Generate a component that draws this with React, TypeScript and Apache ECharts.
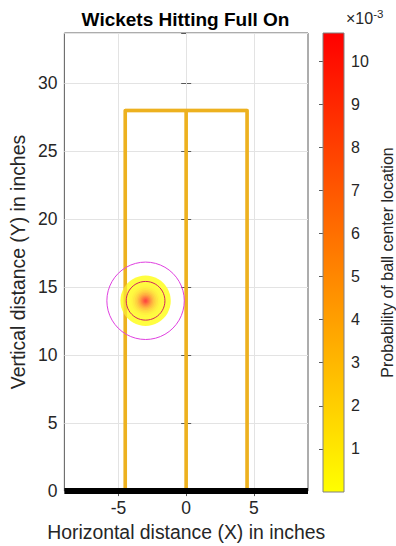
import React, { useEffect, useRef } from 'react';
import * as echarts from 'echarts';

// ---- data ----
const xLimits = [-9, 9];
const yLimits = [0, 33.7];
const xTicks = [-5, 0, 5];
const yStep = 5;
const stumpX = [-4.5, 0, 4.5];
const stumpBase = 0;
const stumpTop = 28;
const groundX = [-9, 9];
const groundY = 0;
const ballCenter = [-3, 14];
const ballRadius = 1.43;
const reachRadius = 2.86;
// concentric bands of the probability surface, outer radius (inches) and probability (x10^-3)
const bandRadius = [1.86, 1.4, 1.2, 1.05, 0.92, 0.8, 0.68, 0.57, 0.47, 0.38, 0.3, 0.22, 0.14, 0.07];
const bandProbability = [0.05, 0.15, 0.35, 0.8, 1.4, 2.1, 3.0, 4.0, 5.1, 6.2, 7.3, 8.4, 9.4, 10.2];
const colorbarRange = [0, 10.65];
const colorbarStep = 1;

const FONT = '"Liberation Sans", Arial, Helvetica, sans-serif';
const TXT = '#262626';
const AXC = '#5a5a5a';
const GRIDC = '#e3e3e3';
const STUMP = '#EDB120';

export default function App() {
  const ref = useRef<HTMLDivElement>(null);
  useEffect(() => {
    if (!ref.current) return;
    const chart = echarts.init(ref.current, null, { renderer: 'svg' });

    const bandData = bandRadius.map((r, i) => [ballCenter[0], ballCenter[1], r, bandProbability[i]]);
    const stumpSeries = (opacity: number, z: number) =>
      [
        [[stumpX[0], stumpBase], [stumpX[0], stumpTop], [stumpX[2], stumpTop], [stumpX[2], stumpBase]],
        [[stumpX[1], stumpBase], [stumpX[1], stumpTop]],
      ].map((d) => ({
        type: 'line',
        xAxisIndex: 0,
        yAxisIndex: 0,
        data: d,
        symbol: 'none',
        z,
        silent: true,
        clip: false,
        lineStyle: { color: STUMP, width: 3.5, opacity, join: 'round', cap: 'butt' },
      }));

    const circleSeries = (radius: number, color: string) => ({
      type: 'custom',
      xAxisIndex: 0,
      yAxisIndex: 0,
      z: 6,
      silent: true,
      data: [[ballCenter[0], ballCenter[1], radius]],
      encode: { x: 0, y: 1 },
      renderItem: (_p: any, api: any) => {
        const c = api.coord([api.value(0), api.value(1)]);
        const r = api.size([api.value(2), 0])[0];
        return {
          type: 'circle',
          shape: { cx: c[0], cy: c[1], r },
          style: { fill: 'none', stroke: color, lineWidth: 1 },
        };
      },
    });

    const tickStyle = { show: true, inside: true, length: 5, lineStyle: { color: AXC } };
    const xTickStyle = { ...tickStyle, customValues: xTicks };

    const option: any = {
      animation: false,
      grid: [
        { left: 63, top: 33, width: 245, height: 459, show: true, borderColor: AXC, borderWidth: 1, backgroundColor: '#fff' },
        { left: 323, top: 33, width: 24, height: 459 },
      ],
      xAxis: [
        {
          type: 'value', gridIndex: 0, min: xLimits[0], max: xLimits[1], position: 'bottom',
          axisLine: { show: false }, axisTick: xTickStyle,
          axisLabel: { color: TXT, fontSize: 17.5, fontFamily: FONT, margin: 8, customValues: xTicks },
          splitLine: { show: false },
          name: 'Horizontal distance (X) in inches', nameLocation: 'middle', nameGap: 28,
          nameTextStyle: { color: TXT, fontSize: 19.4, fontFamily: FONT },
        },
        {
          type: 'value', gridIndex: 0, min: xLimits[0], max: xLimits[1], position: 'top',
          axisLine: { show: false }, axisTick: xTickStyle, axisLabel: { show: false }, splitLine: { show: false },
        },
        { type: 'value', gridIndex: 1, min: 0, max: 1, show: false },
      ],
      yAxis: [
        {
          type: 'value', gridIndex: 0, min: yLimits[0], max: yLimits[1], interval: yStep, position: 'left',
          axisLine: { show: false }, axisTick: tickStyle,
          axisLabel: { color: TXT, fontSize: 17.5, fontFamily: FONT, margin: 7, showMaxLabel: false },
          splitLine: { show: true, lineStyle: { color: GRIDC, width: 1 } },
          name: 'Vertical distance (Y) in inches', nameLocation: 'middle', nameGap: 35,
          nameTextStyle: { color: TXT, fontSize: 19.4, fontFamily: FONT },
        },
        {
          type: 'value', gridIndex: 0, min: yLimits[0], max: yLimits[1], interval: yStep, position: 'right',
          axisLine: { show: false }, axisTick: tickStyle, axisLabel: { show: false }, splitLine: { show: false },
        },
        {
          type: 'value', gridIndex: 1, min: colorbarRange[0], max: colorbarRange[1], interval: colorbarStep, position: 'right',
          axisLine: { show: false },
          axisTick: { show: true, inside: true, length: 4, lineStyle: { color: AXC } },
          axisLabel: { color: TXT, fontSize: 16, fontFamily: FONT, margin: 7, showMinLabel: false, showMaxLabel: false },
          splitLine: { show: false },
          name: 'Probability of ball center location', nameLocation: 'middle', nameGap: 35, nameRotate: 90,
          nameTextStyle: { color: TXT, fontSize: 16, fontFamily: FONT },
        },
      ],
      visualMap: {
        show: false, type: 'continuous', min: colorbarRange[0], max: colorbarRange[1],
        dimension: 3, seriesIndex: 3,
        inRange: { color: ['#ffff40', '#ff4040'] },
      },
      graphic: [
        {
          type: 'text', x: 185.5, y: 19, z: 100,
          style: { text: 'Wickets Hitting Full On', fill: '#000', font: `bold 19px ${FONT}`, textAlign: 'center', textVerticalAlign: 'middle' },
        },
        {
          type: 'text', x: 346, y: 8, z: 100,
          style: {
            text: '{a|×10}{b|-3}',
            rich: {
              a: { fontSize: 16, fontFamily: FONT, fill: TXT, color: TXT },
              b: { fontSize: 11.5, fontFamily: FONT, fill: TXT, color: TXT, padding: [0, 0, 9, 0] },
            },
          },
        },
      ],
      series: [
        {
          type: 'line', xAxisIndex: 0, yAxisIndex: 0, z: 1, silent: true, symbol: 'none', data: [],
          markLine: {
            z: 1, silent: true, symbol: 'none', label: { show: false }, animation: false,
            lineStyle: { color: GRIDC, width: 1, type: 'solid' },
            emphasis: { disabled: true },
            data: xTicks.map((v) => ({ xAxis: v })),
          },
        },
        ...stumpSeries(1, 2),
        {
          type: 'custom',
          xAxisIndex: 0,
          yAxisIndex: 0,
          z: 4,
          silent: true,
          data: bandData,
          encode: { x: 0, y: 1 },
          renderItem: (_p: any, api: any) => {
            const c = api.coord([api.value(0), api.value(1)]);
            const r = api.size([api.value(2), 0])[0];
            return { type: 'circle', shape: { cx: c[0], cy: c[1], r }, style: { fill: api.visual('color') } };
          },
        },
        ...stumpSeries(0.45, 5),
        circleSeries(reachRadius, '#e040e0'),
        circleSeries(ballRadius, '#d0245f'),
        {
          type: 'line', xAxisIndex: 0, yAxisIndex: 0, z: 7, silent: true, clip: false, symbol: 'none',
          data: [[groundX[0], groundY], [groundX[1], groundY]],
          lineStyle: { color: '#000', width: 6, cap: 'butt' },
        },
        {
          type: 'custom',
          xAxisIndex: 2,
          yAxisIndex: 2,
          silent: true,
          data: [[0, colorbarRange[0], 1, colorbarRange[1]]],
          encode: { x: 0, y: 1 },
          renderItem: (_p: any, api: any) => {
            const a = api.coord([api.value(0), api.value(1)]);
            const b = api.coord([api.value(2), api.value(3)]);
            return {
              type: 'rect',
              shape: { x: a[0], y: b[1], width: b[0] - a[0], height: a[1] - b[1] },
              style: {
                fill: new echarts.graphic.LinearGradient(0, 0, 0, 1, [
                  { offset: 0, color: '#ff0000' },
                  { offset: 1, color: '#ffff00' },
                ]),
                stroke: '#808080',
                lineWidth: 1,
              },
              z2: -1,
            };
          },
        },
      ],
    };
    chart.setOption(option);
    return () => chart.dispose();
  }, []);
  return <div ref={ref} style={{ position: 'absolute', left: 0, top: 0, width: 396, height: 546 }} />;
}
